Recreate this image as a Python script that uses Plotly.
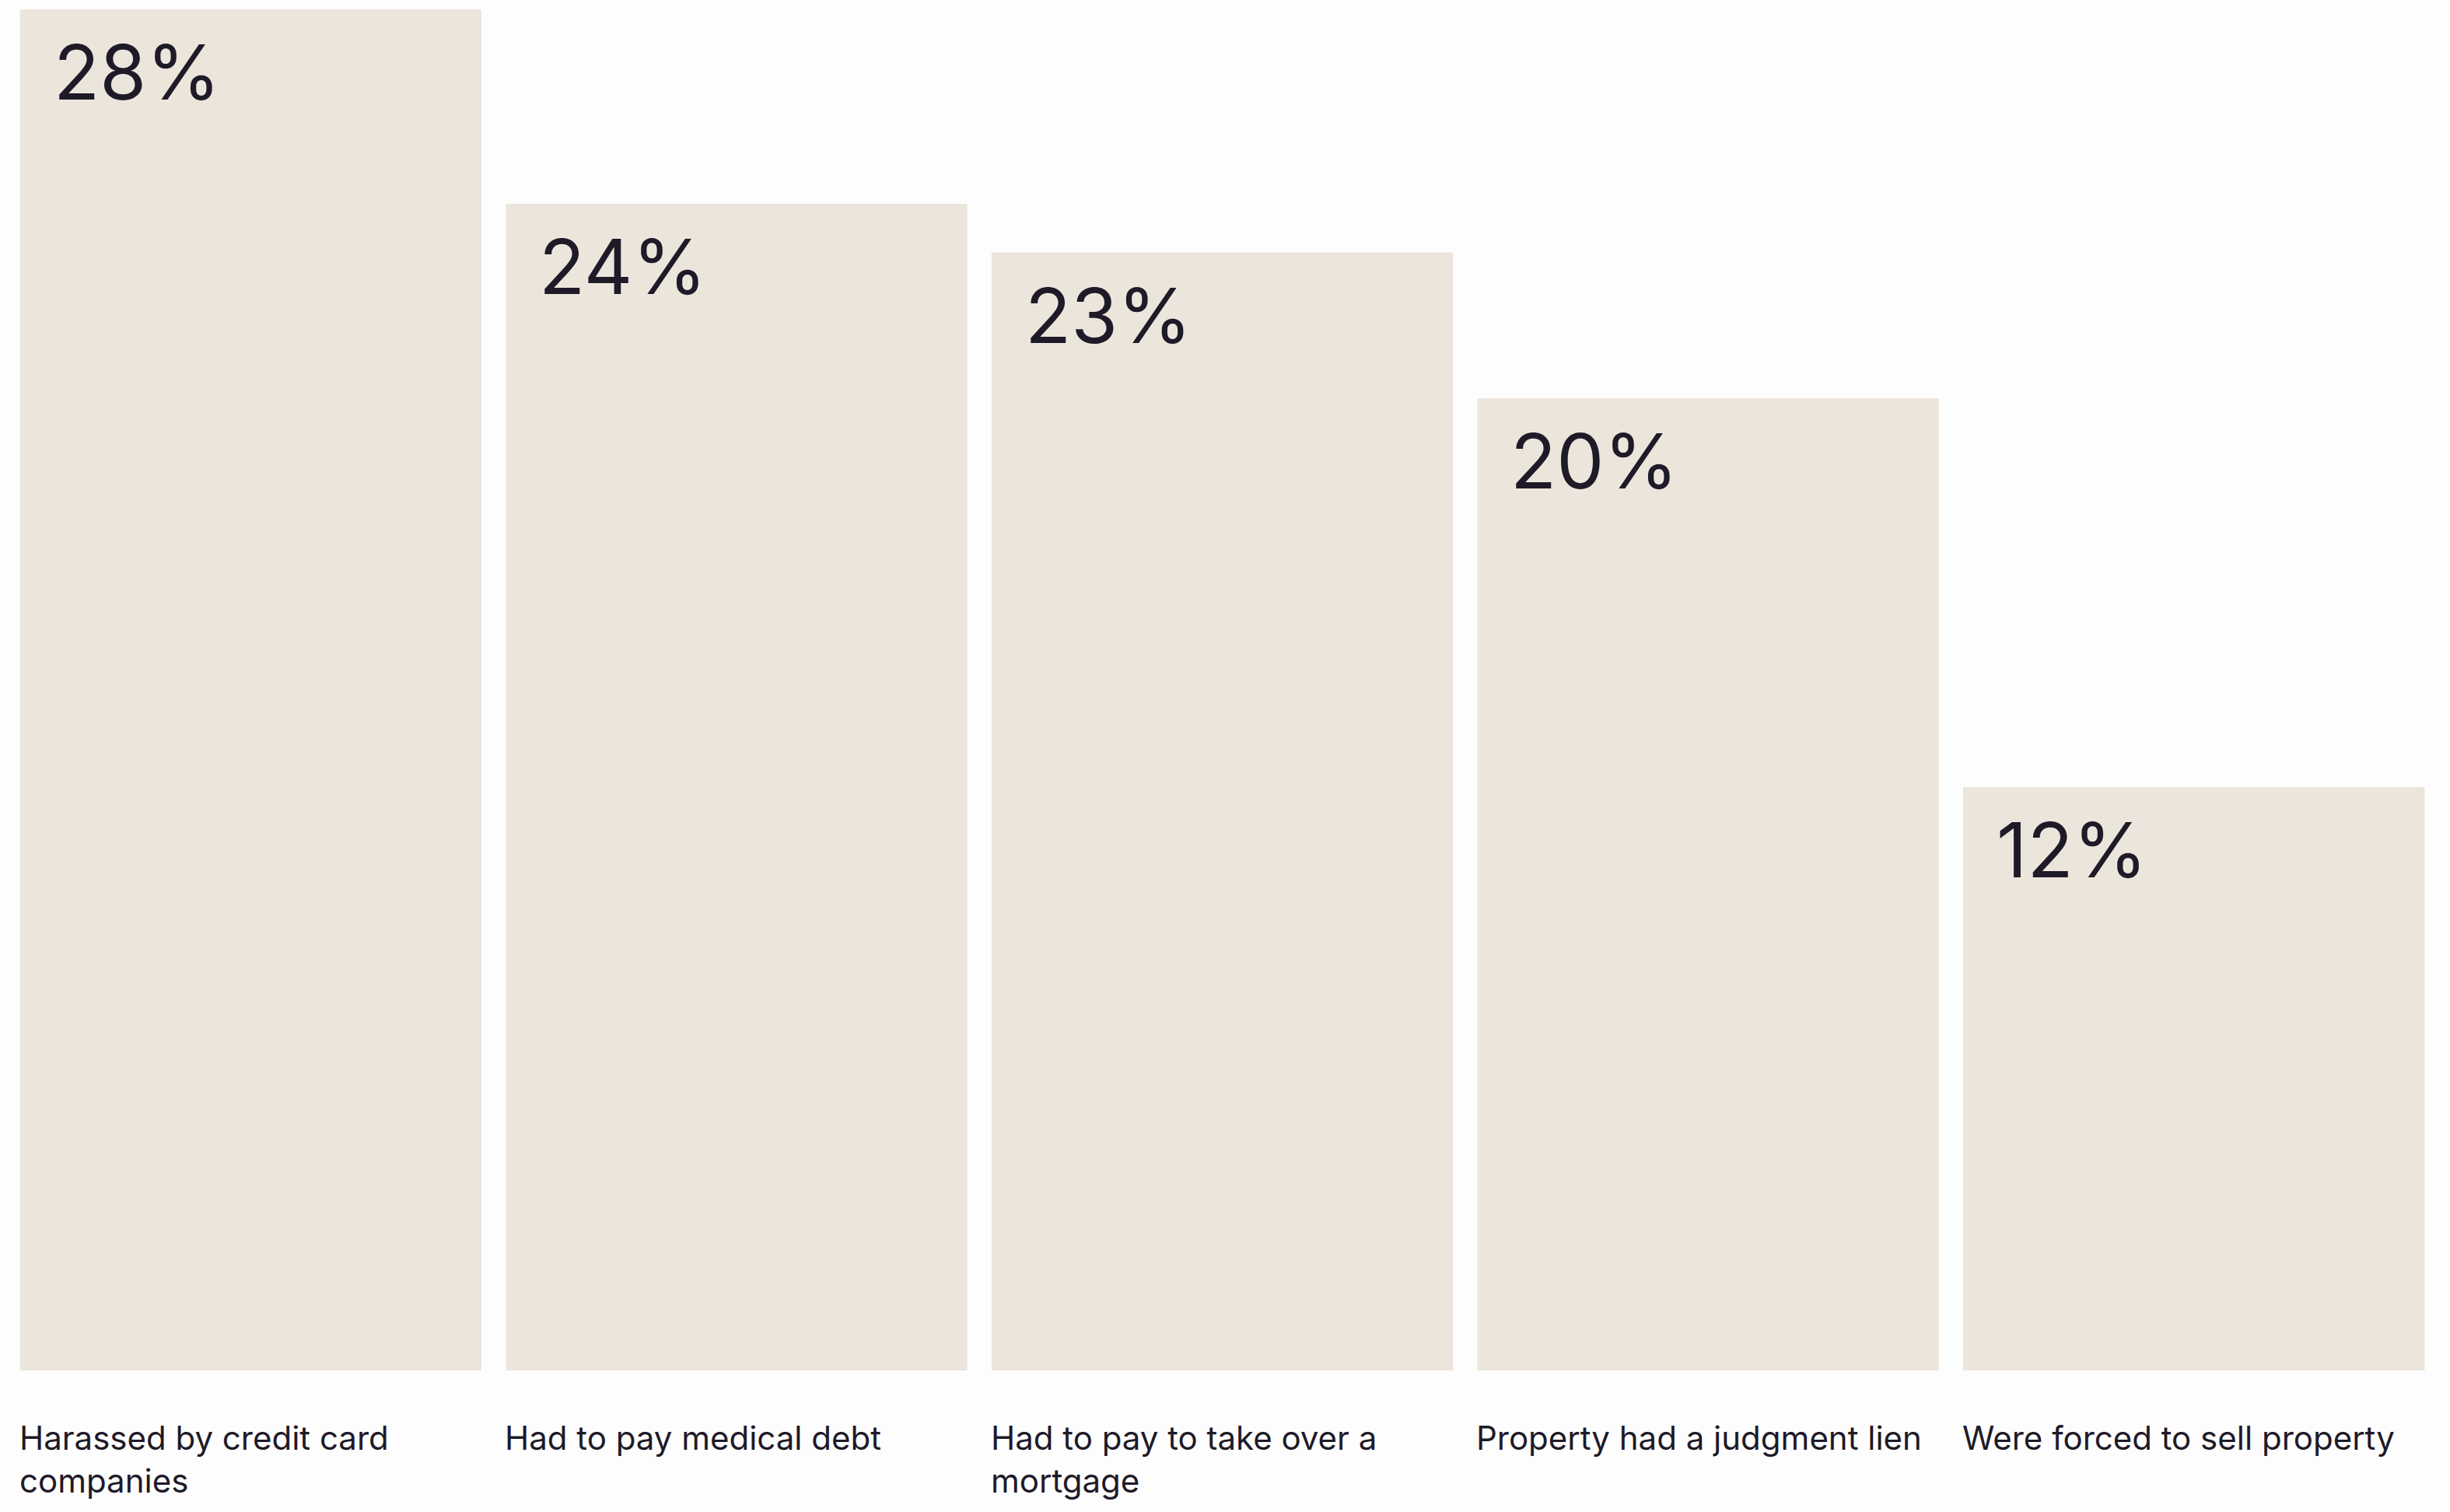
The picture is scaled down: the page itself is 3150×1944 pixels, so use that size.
import plotly.graph_objects as go

categories = [
    "Harassed by credit card<br>companies",
    "Had to pay medical debt",
    "Had to pay to take over a<br>mortgage",
    "Property had a judgment lien",
    "Were forced to sell property",
]
values = [28, 24, 23, 20, 12]
value_labels = ["28%", "24%", "23%", "20%", "12%"]

BAR_COLOR = "#ECE5DC"
TEXT_COLOR = "#1E1A28"
BG = "#FDFDFD"
BAR_W = 0.95
FONT = "Inter, Roboto, sans-serif"

xs = list(range(len(values)))

fig = go.Figure(
    go.Bar(
        x=xs,
        y=values,
        width=BAR_W,
        marker=dict(color=BAR_COLOR, line=dict(width=0)),
        hoverinfo="skip",
    )
)

annotations = []
for i, (v, lab, cat) in enumerate(zip(values, value_labels, categories)):
    left = i - BAR_W / 2
    # big percentage inside the top-left corner of each bar
    annotations.append(dict(
        x=left, y=v, xref="x", yref="y",
        text=lab, showarrow=False,
        xanchor="left", yanchor="top",
        xshift=41, yshift=-20,
        font=dict(family=FONT, size=97, color=TEXT_COLOR),
        align="left",
    ))
    # category caption under each bar
    annotations.append(dict(
        x=left, y=0, xref="x", yref="paper",
        text=cat, showarrow=False,
        xanchor="left", yanchor="top",
        xshift=-3, yshift=-59,
        font=dict(family=FONT, size=42, color=TEXT_COLOR),
        align="left",
    ))

fig.update_layout(
    width=3150, height=1944,
    margin=dict(l=10, r=17, t=12, b=182),
    paper_bgcolor=BG, plot_bgcolor=BG,
    showlegend=False,
    xaxis=dict(range=[-0.5, len(values) - 0.5], visible=False, fixedrange=True),
    yaxis=dict(range=[0, 28], visible=False, fixedrange=True),
    annotations=annotations,
)

fig.write_html("out.html", config={"displayModeBar": False})
